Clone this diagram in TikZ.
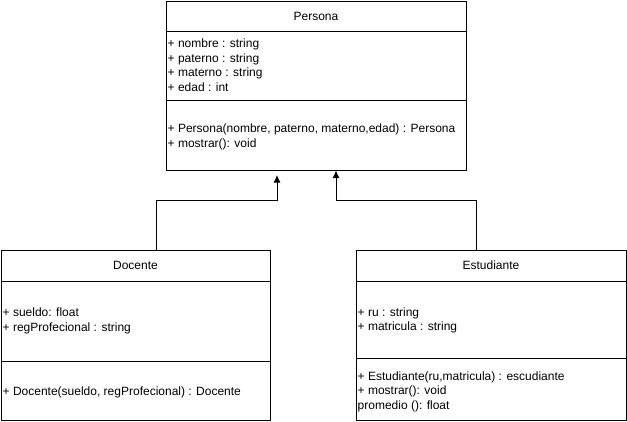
\documentclass[tikz,border=0pt]{standalone}
\usepackage{fontspec}
\setmainfont{Liberation Sans}
\usetikzlibrary{positioning, arrows.meta}

\tikzset{
  caja/.style={draw, line width=1pt, inner sep=0pt, outer sep=0pt, anchor=north west,
    font=\fontsize{12pt}{14pt}\selectfont},
  texto/.style={anchor=base west, inner sep=0pt,
    font=\fontsize{12pt}{14pt}\selectfont},
  herencia/.style={-{Latex[length=7.5pt,width=7pt]}, line width=1pt},
}

\begin{document}
\begin{tikzpicture}[x=1pt, y=-1pt]
    \useasboundingbox (0,0) rectangle (627,421);

    % Clase Persona
    \node[caja, minimum width=300pt, minimum height=30pt] (persona) at (166,1) {Persona};
    \node[caja, minimum width=300pt, minimum height=69pt, below=0pt of persona] (personaAtr) {};
    \node[caja, minimum width=300pt, minimum height=70pt, below=0pt of personaAtr] (personaOps) {};
    \foreach \t [count=\i from 0] in {{+ nombre : string}, {+ paterno : string},
                                      {+ materno : string}, {+ edad : int}} {
        \node[texto] (personaAtr\i) at (167.5, {47.8+14.4*\i}) {\t};
    }
    \foreach \t [count=\i from 0] in {{+ Persona(nombre, paterno, materno,edad) : Persona},
                                      {+ mostrar(): void}} {
        \node[texto] (personaOps\i) at (167.5, {132.8+14.4*\i}) {\t};
    }

    % Clase Docente
    \node[caja, minimum width=269pt, minimum height=31pt] (docente) at (1,250) {Docente};
    \node[caja, minimum width=269pt, minimum height=80pt, below=0pt of docente] (docenteAtr) {};
    \node[caja, minimum width=269pt, minimum height=59pt, below=0pt of docenteAtr] (docenteOps) {};
    \foreach \t [count=\i from 0] in {{+ sueldo: float}, {+ regProfecional : string}} {
        \node[texto] (docenteAtr\i) at (2.5, {316.8+14.4*\i}) {\t};
    }
    \node[texto] (docenteOps0) at (2.5, 395.2) {+ Docente(sueldo, regProfecional) : Docente};

    % Clase Estudiante
    \node[caja, minimum width=270pt, minimum height=31pt] (estudiante) at (356,250) {Estudiante};
    \node[caja, minimum width=270pt, minimum height=77pt, below=0pt of estudiante] (estudianteAtr) {};
    \node[caja, minimum width=270pt, minimum height=62pt, below=0pt of estudianteAtr] (estudianteOps) {};
    \foreach \t [count=\i from 0] in {{+ ru : string}, {+ matricula : string}} {
        \node[texto] (estudianteAtr\i) at (357.5, {316.5+14.4*\i}) {\t};
    }
    \foreach \t [count=\i from 0] in {{+ Estudiante(ru,matricula) : escudiante},
                                      {+ mostrar(): void}, {promedio (): float}} {
        \node[texto] (estudianteOps\i) at (357.5, {380.2+14.4*\i}) {\t};
    }

    % Herencia
    \coordinate (codoIzq) at (277,200);
    \coordinate (codoDer) at (336,200);
    \draw[herencia, shorten >=5pt] ([xshift=20.5pt]docente.north) |- (codoIzq)
        -- ([xshift=-39pt]personaOps.south);
    \draw[herencia, shorten >=0.5pt] ([xshift=-15pt]estudiante.north) |- (codoDer)
        -- ([xshift=20pt]personaOps.south);
\end{tikzpicture}
\end{document}
